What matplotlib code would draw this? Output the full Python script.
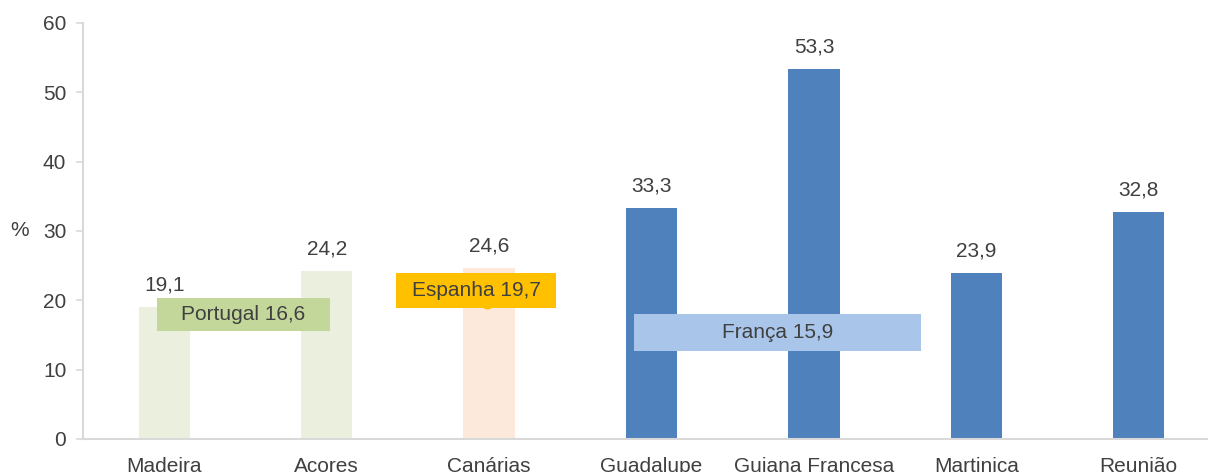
import matplotlib
matplotlib.use("Agg")
import matplotlib.pyplot as plt
from matplotlib.patches import Rectangle

plt.rcParams['font.family'] = ['Liberation Sans', 'DejaVu Sans']

categories = ["Madeira", "Acores", "Canárias", "Guadalupe", "Guiana Francesa", "Martinica", "Reunião"]
values = [19.1, 24.2, 24.6, 33.3, 53.3, 23.9, 32.8]
bar_colors = ["#EBEFDE", "#EBEFDE", "#FDE9DB", "#4F81BD", "#4F81BD", "#4F81BD", "#4F81BD"]
value_labels = ["19,1", "24,2", "24,6", "33,3", "53,3", "23,9", "32,8"]

national_names = ["Portugal", "Espanha", "França"]
national_values = [16.6, 19.7, 15.9]
national_labels = ["Portugal 16,6", "Espanha 19,7", "França 15,9"]
national_colors = ["#C4D79B", "#FFC000", "#A9C6EA"]
# box extents (x0, x1, y0, y1) in data units
national_boxes = [(-0.045, 1.02, 15.6, 20.3), (1.43, 2.41, 18.9, 23.9), (2.89, 4.66, 12.7, 18.0)]
national_point_x = [0.5, 1.99, 3.77]

fig = plt.figure(figsize=(12.08, 4.72), dpi=100)
ax = fig.add_axes([83/1208, 33/472, (1220-83)/1208, (449-33)/472])

x = list(range(len(categories)))
ax.bar(x, values, width=0.315, color=bar_colors, zorder=2)

txt = "#404040"
fs = 15
for xi, v, lab in zip(x, values, value_labels):
    ax.annotate(lab, (xi, v), xytext=(0, 9), textcoords="offset points",
                ha="center", va="bottom", fontsize=fs, color=txt, zorder=5)

# Espanha point (visible just under its label)
ax.plot([national_point_x[1]], [national_values[1]], 'o', color="#FFC000", ms=9, zorder=3)

for (x0, x1, y0, y1), lab, col in zip(national_boxes, national_labels, national_colors):
    ax.add_patch(Rectangle((x0, y0), x1 - x0, y1 - y0, facecolor=col, edgecolor="none", zorder=4))
    ax.text((x0 + x1) / 2, (y0 + y1) / 2, lab, ha="center", va="center", fontsize=fs, color=txt, zorder=6)

ax.set_xlim(-0.5, 6.5)
ax.set_ylim(0, 60)
ax.set_yticks(range(0, 61, 10))
ax.set_xticks(x)
ax.set_xticklabels(categories)
for s in ["top", "right"]:
    ax.spines[s].set_visible(False)
for s in ["left", "bottom"]:
    ax.spines[s].set_color("#D9D9D9")
    ax.spines[s].set_linewidth(1.5)
ax.tick_params(axis="y", length=5, width=1.2, color="#D9D9D9", labelsize=fs, labelcolor=txt, pad=7)
ax.tick_params(axis="x", length=0, labelsize=fs, labelcolor=txt, pad=13)
ax.set_ylabel("%", rotation=0, fontsize=fs, color=txt, va="center")
ax.yaxis.set_label_coords(-0.056, 0.5)

fig.savefig("out.png", dpi=100)
